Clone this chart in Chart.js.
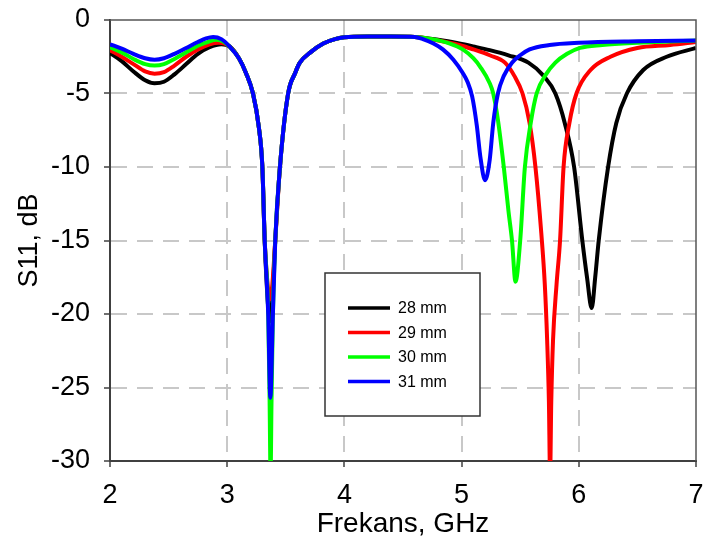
<!DOCTYPE html>
<html>
<head>
<meta charset="utf-8">
<script src="https://cdn.jsdelivr.net/npm/chart.js@4.4.0/dist/chart.umd.min.js"></script>
<style>
html, body { margin: 0; padding: 0; background: #fff; }
#wrap { width: 706px; height: 547px; }
</style>
</head>
<body>
<div id="wrap"><canvas id="c" width="706" height="547"></canvas></div>
<script>
// frequency (GHz) and S11 (dB), one pair of arrays per patch length
var freq28 = [2.00,2.10,2.20,2.30,2.38,2.46,2.55,2.65,2.75,2.85,2.95,3.02,3.10,3.16,3.22,3.27,3.30,3.32,3.345,3.365,3.385,3.41,3.45,3.52,3.58,3.62,3.71,3.82,3.92,4.00,4.20,4.40,4.60,4.80,4.98,5.10,5.24,5.40,5.57,5.70,5.80,5.88,5.96,6.03,6.07,6.11,6.14,6.17,6.25,6.32,6.41,6.55,6.75,7.00];
var s11_28 = [-2.25,-2.8,-3.5,-4.1,-4.3,-4.2,-3.7,-3.0,-2.3,-1.85,-1.65,-1.8,-2.6,-3.6,-5.0,-7.3,-10,-15,-19,-20.5,-19,-15,-10,-5,-3.6,-2.9,-2.2,-1.6,-1.3,-1.18,-1.12,-1.12,-1.15,-1.35,-1.6,-1.8,-2.05,-2.4,-2.9,-3.8,-5,-7,-10,-15,-17.5,-19.6,-17.5,-15,-10,-7,-5,-3.4,-2.5,-1.9];

var freq29 = [2.00,2.10,2.20,2.30,2.38,2.46,2.55,2.65,2.75,2.85,2.93,3.02,3.10,3.16,3.22,3.27,3.30,3.32,3.345,3.365,3.385,3.41,3.45,3.52,3.58,3.62,3.71,3.82,3.92,4.00,4.20,4.40,4.60,4.80,4.98,5.10,5.24,5.37,5.45,5.52,5.58,5.63,5.68,5.71,5.73,5.745,5.755,5.765,5.78,5.81,5.84,5.87,5.92,5.98,6.10,6.27,6.50,6.78,7.00];
var s11_29 = [-2.05,-2.5,-3.0,-3.5,-3.65,-3.55,-3.1,-2.5,-2.0,-1.65,-1.55,-1.8,-2.6,-3.6,-5.0,-7.3,-10,-15,-18,-19,-18,-15,-10,-5,-3.6,-2.9,-2.2,-1.6,-1.3,-1.18,-1.12,-1.12,-1.15,-1.4,-1.7,-2.0,-2.4,-2.9,-3.8,-5,-7,-10,-14.5,-18,-21.8,-26,-31,-26,-21.8,-18,-15,-10,-7,-5,-3.4,-2.5,-1.9,-1.7,-1.5];

var freq30 = [2.00,2.10,2.20,2.30,2.38,2.46,2.55,2.65,2.75,2.85,2.90,2.96,3.02,3.10,3.16,3.22,3.27,3.30,3.32,3.35,3.362,3.37,3.378,3.39,3.41,3.45,3.52,3.58,3.62,3.71,3.82,3.92,4.00,4.20,4.40,4.60,4.75,4.90,5.01,5.10,5.16,5.24,5.27,5.31,5.36,5.40,5.43,5.46,5.50,5.54,5.59,5.64,5.72,5.80,5.90,6.01,6.20,6.50,7.00];
var s11_30 = [-1.85,-2.2,-2.65,-3.0,-3.1,-3.0,-2.65,-2.2,-1.75,-1.45,-1.35,-1.45,-1.8,-2.6,-3.6,-5.0,-7.3,-10,-15,-20,-26,-31,-26,-20,-15,-10,-5,-3.6,-2.9,-2.2,-1.6,-1.3,-1.18,-1.12,-1.12,-1.15,-1.3,-1.6,-2.0,-2.6,-3.2,-4.3,-5.0,-6.8,-10,-13,-15,-17.8,-15,-10,-7,-5,-3.7,-2.9,-2.3,-1.9,-1.7,-1.55,-1.4];

var freq31 = [2.00,2.10,2.20,2.30,2.38,2.46,2.55,2.65,2.75,2.82,2.88,2.95,3.02,3.10,3.16,3.22,3.27,3.30,3.32,3.35,3.368,3.39,3.41,3.45,3.52,3.58,3.62,3.71,3.82,3.92,4.00,4.20,4.40,4.60,4.67,4.76,4.84,4.93,5.01,5.05,5.09,5.13,5.16,5.20,5.24,5.27,5.31,5.36,5.43,5.50,5.58,5.75,6.00,6.50,7.00];
var s11_31 = [-1.65,-1.95,-2.3,-2.6,-2.7,-2.6,-2.3,-1.9,-1.5,-1.25,-1.15,-1.3,-1.8,-2.6,-3.6,-5.0,-7.3,-10,-15,-20,-25.7,-20,-15,-10,-5,-3.6,-2.9,-2.2,-1.6,-1.3,-1.18,-1.12,-1.12,-1.15,-1.3,-1.6,-2.0,-2.7,-3.6,-4.2,-5.2,-7.2,-9.3,-10.9,-9.5,-7.0,-5.0,-3.8,-2.9,-2.4,-2.0,-1.7,-1.55,-1.45,-1.4];

var seriesLabels = ['28 mm', '29 mm', '30 mm', '31 mm'];
var seriesColors = ['#000000', '#ff0000', '#00ff00', '#0000ff'];
var xTicks = [2, 3, 4, 5, 6, 7];
var yTicks = [-30, -25, -20, -15, -10, -5, 0];

function pairs(xs, ys) {
	return xs.map(function (x, i) { return { x: x, y: ys[i] }; });
}

var allFreq = [freq28, freq29, freq30, freq31];
var allS11 = [s11_28, s11_29, s11_30, s11_31];
var datasets = [];
for (var i = 0; i < 4; i++) {
	datasets.push({
		label: seriesLabels[i],
		data: pairs(allFreq[i], allS11[i]),
		borderColor: seriesColors[i],
		borderWidth: 4,
		pointRadius: 0,
		cubicInterpolationMode: 'monotone',
		order: 4 - i
	});
}

var FONT = "'Liberation Sans', Arial, sans-serif";
var GRID = '#c8c8c8';
var AXIS = '#404040';

// top and right edge of the plot frame
var framePlugin = {
	id: 'frame',
	afterDatasetsDraw: function (chart) {
		var a = chart.chartArea, ctx = chart.ctx;
		ctx.save();
		ctx.strokeStyle = '#555555';
		ctx.lineWidth = 1.5;
		ctx.beginPath();
		ctx.moveTo(a.left, a.top);
		ctx.lineTo(a.right, a.top);
		ctx.lineTo(a.right, a.bottom);
		ctx.stroke();
		ctx.restore();
	}
};

// boxed legend inside the plot
var legendPlugin = {
	id: 'boxLegend',
	afterDraw: function (chart) {
		var a = chart.chartArea, ctx = chart.ctx;
		var bx = a.left + 215, by = a.top + 253, bw = 155, bh = 143;
		ctx.save();
		ctx.fillStyle = '#ffffff';
		ctx.fillRect(bx, by, bw, bh);
		ctx.strokeStyle = '#333333';
		ctx.lineWidth = 1.5;
		ctx.strokeRect(bx, by, bw, bh);
		ctx.font = '16px ' + FONT;
		ctx.textBaseline = 'middle';
		ctx.fillStyle = '#000000';
		chart.data.datasets.forEach(function (ds, k) {
			var y = by + 35 + k * 24.5;
			ctx.strokeStyle = ds.borderColor;
			ctx.lineWidth = 3.5;
			ctx.beginPath();
			ctx.moveTo(bx + 23, y);
			ctx.lineTo(bx + 65, y);
			ctx.stroke();
			ctx.fillText(ds.label, bx + 73, y + 1);
		});
		ctx.restore();
	}
};

new Chart(document.getElementById('c'), {
	type: 'line',
	data: { datasets: datasets },
	plugins: [framePlugin, legendPlugin],
	options: {
		responsive: false,
		animation: false,
		devicePixelRatio: 1,
		layout: { padding: { left: 0, right: 10, top: 20, bottom: 0 } },
		plugins: { legend: { display: false }, tooltip: { enabled: false } },
		scales: {
			x: {
				type: 'linear',
				min: 2, max: 7,
				afterBuildTicks: function (s) { s.ticks = xTicks.map(function (v) { return { value: v }; }); },
				afterFit: function (s) { s.height = 86; s.paddingLeft = 0; s.paddingRight = 0; },
				grid: {
					color: function (c) { return (c.tick && (c.tick.value === 2 || c.tick.value === 7)) ? 'rgba(0,0,0,0)' : GRID; },
					lineWidth: 2,
					tickColor: AXIS,
					tickWidth: 1.5,
					tickLength: 6,
					tickBorderDash: []
				},
				border: { color: AXIS, width: 2, dash: [16, 10] },
				ticks: { color: '#000', font: { family: FONT, size: 27 }, padding: 12, maxRotation: 0 },
				title: { display: true, text: 'Frekans, GHz', color: '#000', font: { family: FONT, size: 28 }, padding: { top: 4, bottom: 6 } }
			},
			y: {
				min: -30, max: 0,
				afterBuildTicks: function (s) { s.ticks = yTicks.map(function (v) { return { value: v }; }); },
				afterFit: function (s) { s.width = 110; s.paddingTop = 0; s.paddingBottom = 0; },
				grid: {
					color: function (c) { return (c.tick && (c.tick.value === -30 || c.tick.value === 0)) ? 'rgba(0,0,0,0)' : GRID; },
					lineWidth: 2,
					tickColor: AXIS,
					tickWidth: 1.5,
					tickLength: 6,
					tickBorderDash: []
				},
				border: { color: AXIS, width: 2, dash: [16, 10] },
				ticks: { color: '#000', font: { family: FONT, size: 27 }, padding: 14 },
				title: { display: true, text: 'S11, dB', color: '#000', font: { family: FONT, size: 27 }, padding: { top: 13, bottom: 0 } }
			}
		}
	}
});
</script>
</body>
</html>
